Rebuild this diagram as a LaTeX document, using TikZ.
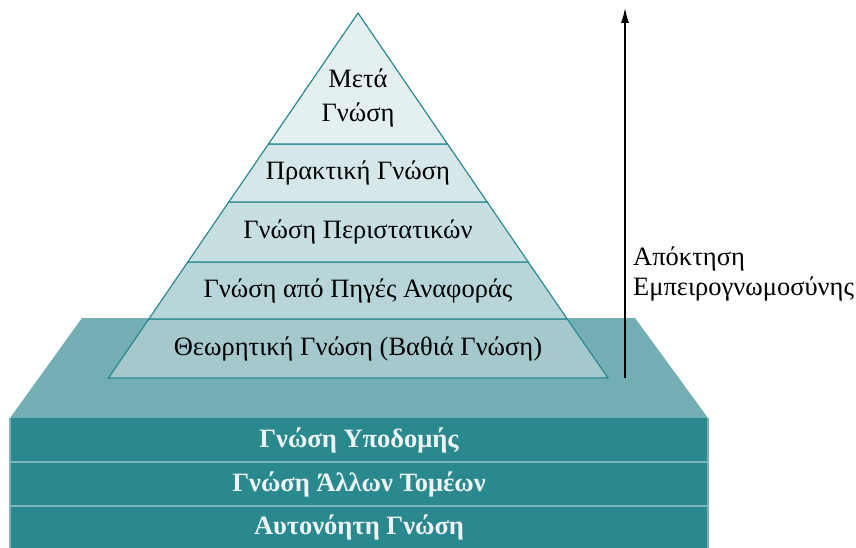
\documentclass[tikz,border=0pt]{standalone}
\usepackage{fontspec}
\setmainfont{Liberation Serif}
\usetikzlibrary{arrows.meta}
\definecolor{tealdark}{HTML}{2A898F}
\definecolor{tealtop}{HTML}{72AEB3}
\definecolor{tealline}{HTML}{2A8A90}
\definecolor{tealedge}{HTML}{7DB3B7}
\definecolor{lvlA}{HTML}{E4EFF0}
\definecolor{lvlB}{HTML}{D6E7E9}
\definecolor{lvlC}{HTML}{C8DFE2}
\definecolor{lvlD}{HTML}{B8D6D9}
\definecolor{lvlE}{HTML}{A5C8CD}
\definecolor{fronttext}{HTML}{EEF3F3}
\tikzset{
  band/.style={draw=tealline, line width=1.2pt, line join=miter},
  ptext/.style={font=\fontsize{26.5}{30}\selectfont, text=black, inner sep=0pt},
  ftext/.style={font=\fontsize{26.5}{30}\selectfont\bfseries, text=fronttext, inner sep=0pt},
  rowsep/.style={draw=tealedge, line width=2pt}
}
\begin{document}
\begin{tikzpicture}[x=1pt,y=-1pt]
\useasboundingbox (0,0) rectangle (856,548);
\begin{scope}
\clip (0,0) rectangle (856,548);
% platform: top face and front slab
\fill[tealtop] (82,318) -- (635,318) -- (708,418) -- (10,418) -- cycle;
\fill[tealdark] (10,418) rectangle (708,560);
\draw[tealedge, line width=2pt] (10,418) -- (10,560);
\draw[tealedge, line width=2pt] (708,418) -- (708,560);
\draw[rowsep] (10,462) -- (708,462);
\draw[rowsep] (10,506) -- (708,506);
\end{scope}
% pyramid levels (apex (358,13), base y=378, half width 249.5)
\coordinate (apex) at (358,13);
\filldraw[band, fill=lvlE] (148.8,319) -- (567.2,319) -- (608,378) -- (108.5,378) -- cycle;
\filldraw[band, fill=lvlD] (187.8,262) -- (528.2,262) -- (567.2,319) -- (148.8,319) -- cycle;
\filldraw[band, fill=lvlC] (228.8,202) -- (487.2,202) -- (528.2,262) -- (187.8,262) -- cycle;
\filldraw[band, fill=lvlB] (268.5,144) -- (447.5,144) -- (487.2,202) -- (228.8,202) -- cycle;
\filldraw[band, fill=lvlA] (apex) -- (447.5,144) -- (268.5,144) -- cycle;
% level labels
\node[ptext, anchor=base] (meta1) at (358,88) {Μετά};
\node[ptext, anchor=base] (meta2) at (358,122) {Γνώση};
\node[ptext] (prakt) at (358,173) {Πρακτική Γνώση};
\node[ptext] (perist) at (358,232) {Γνώση Περιστατικών};
\node[ptext] (pigi) at (358,291) {Γνώση από Πηγές Αναφοράς};
\node[ptext] (theor) at (358,349) {Θεωρητική Γνώση (Βαθιά Γνώση)};
% foundation labels
\node[ftext] (ypod) at (359,440) {Γνώση Υποδομής};
\node[ftext] (allon) at (359,484) {Γνώση Άλλων Τομέων};
\node[ftext] (auton) at (359,527) {Αυτονόητη Γνώση};
% expertise arrow
\coordinate (arrbot) at (625,378);
\coordinate (arrtop) at (625,8);
\draw[line width=1.2pt, -{Latex[length=15pt,width=8pt]}] (arrbot) -- (arrtop);
\node[ptext, anchor=base west] (exp1) at (633,265) {Απόκτηση};
\node[ptext, anchor=base west] (exp2) at (633,295) {Εμπειρογνωμοσύνης};
\end{tikzpicture}
\end{document}
